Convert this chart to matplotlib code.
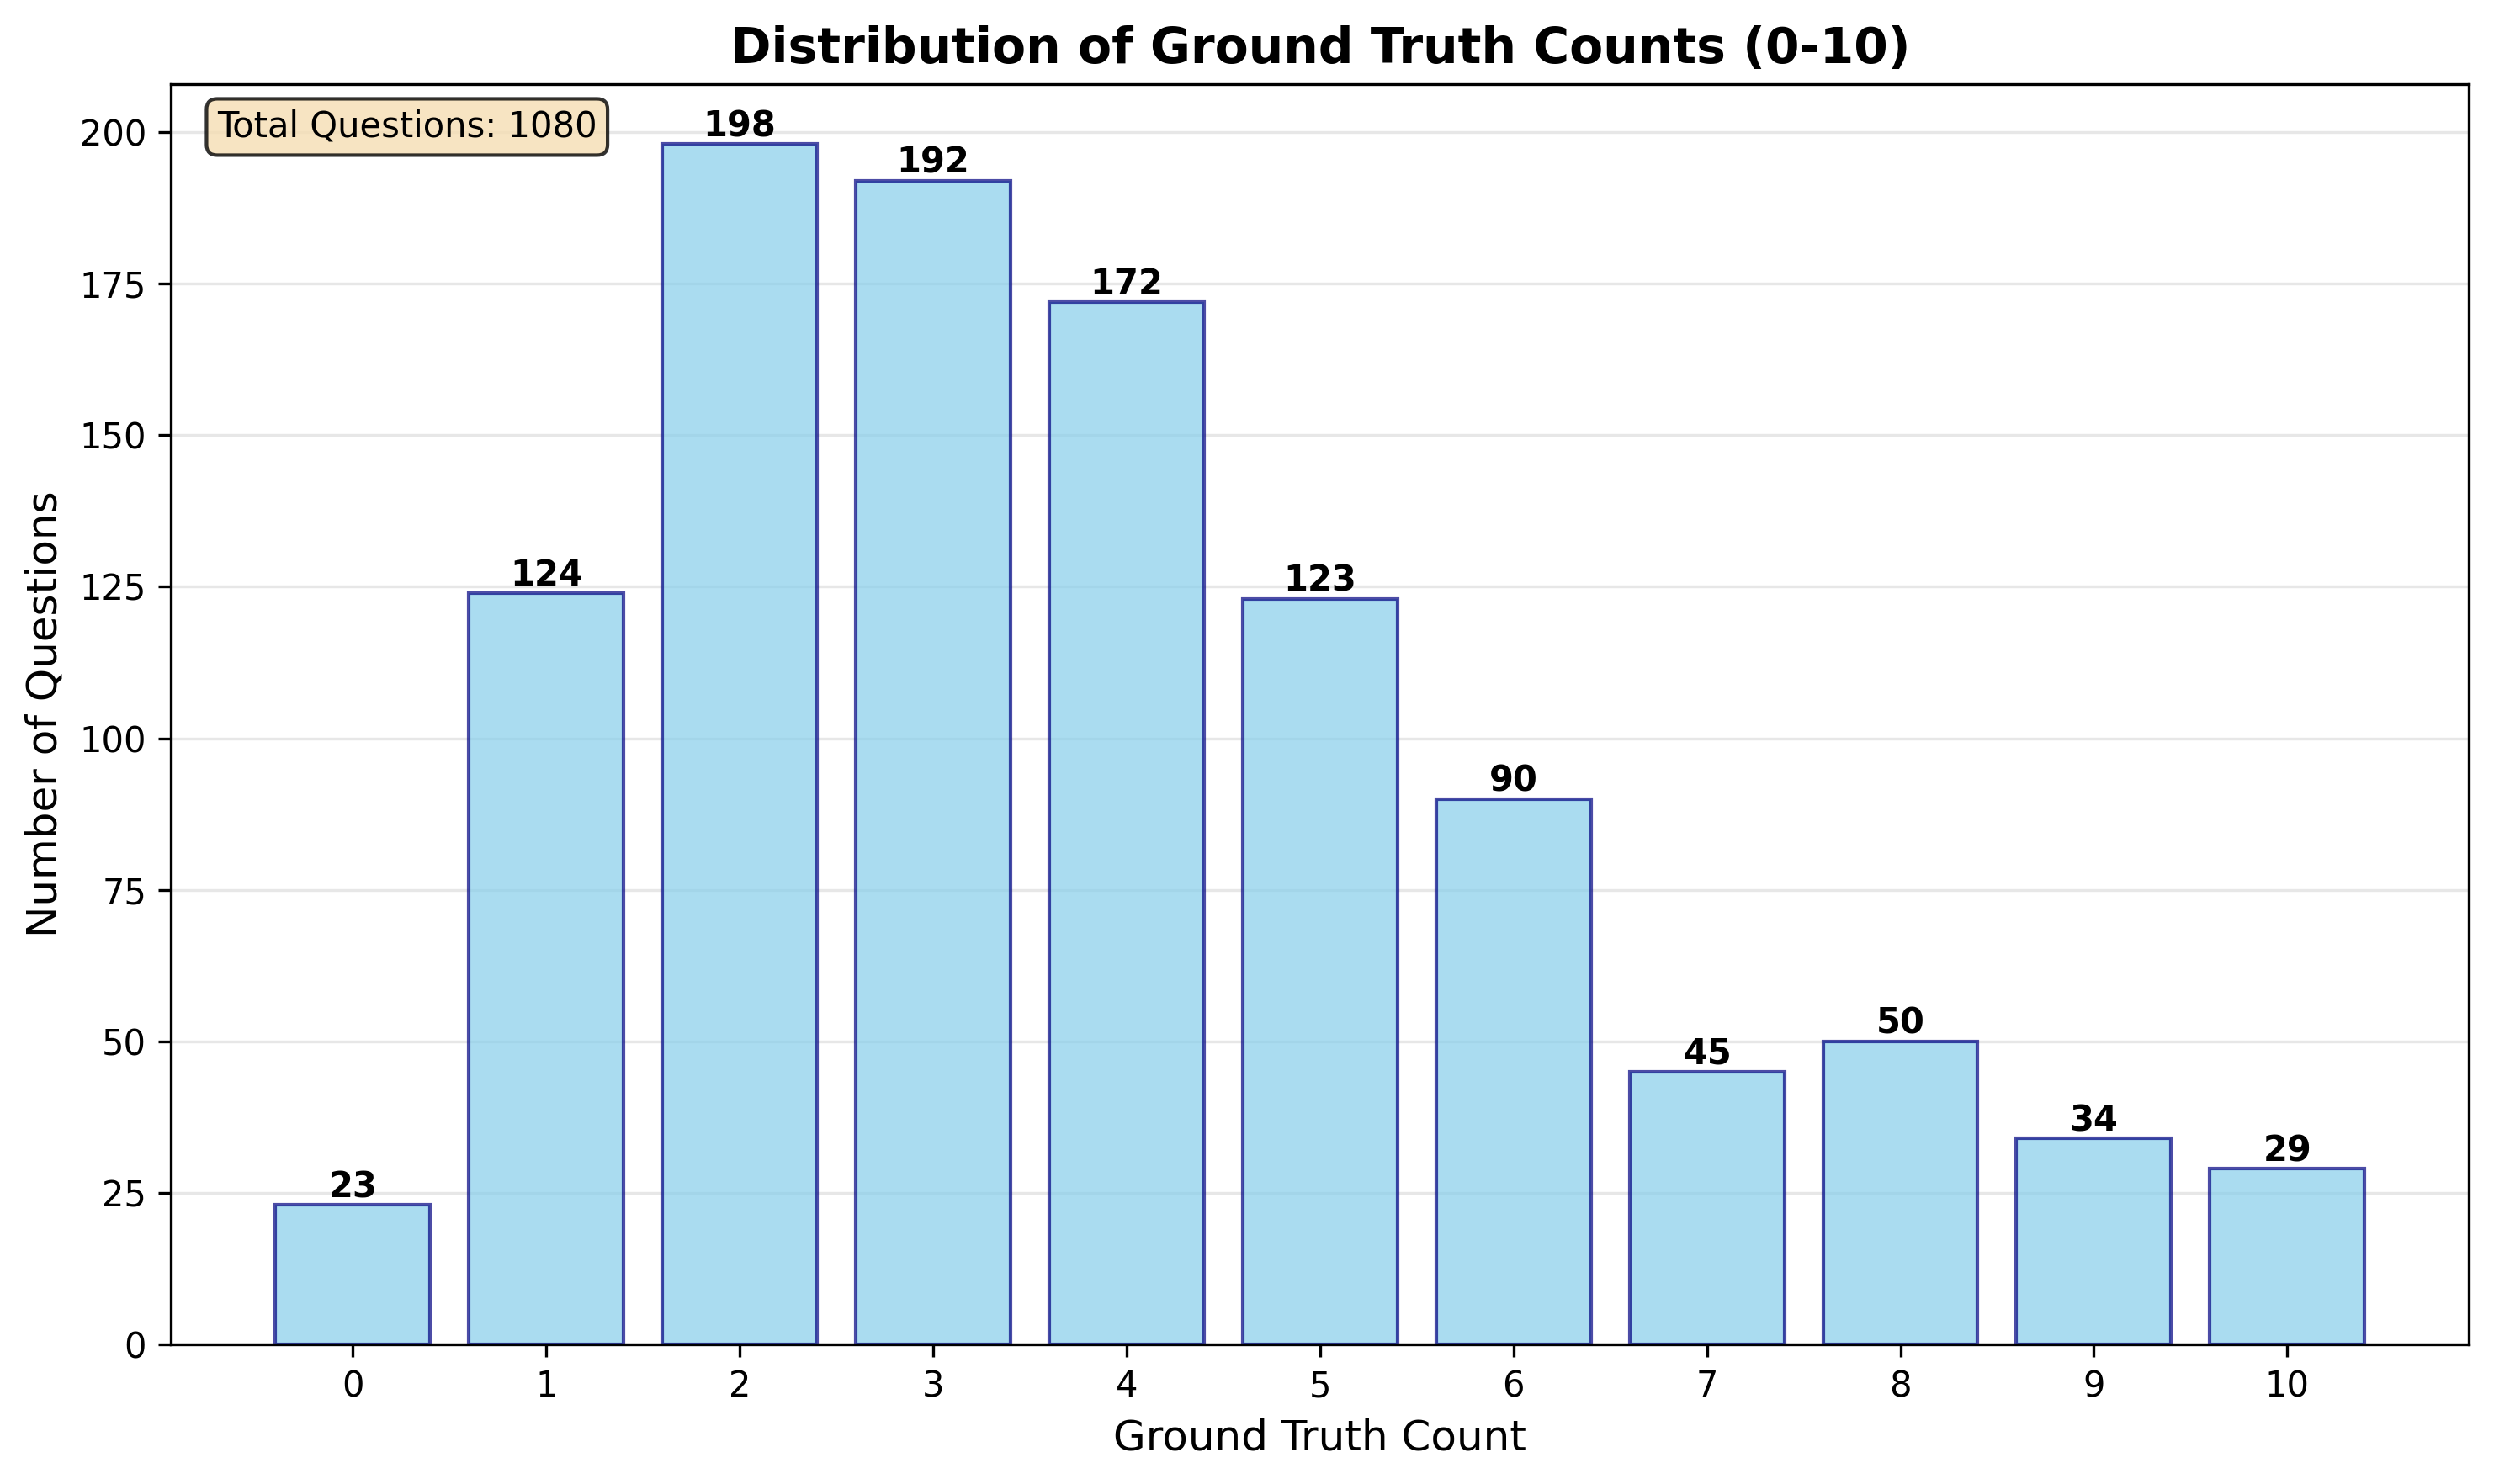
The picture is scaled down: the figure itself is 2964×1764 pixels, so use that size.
import numpy as np
import matplotlib.pyplot as plt

counts = [0, 1, 2, 3, 4, 5, 6, 7, 8, 9, 10]
num_questions = [23, 124, 198, 192, 172, 123, 90, 45, 50, 34, 29]

fig, ax = plt.subplots(figsize=(10, 6))
bars = ax.bar(counts, num_questions, color='skyblue', edgecolor='navy',
              alpha=0.7, linewidth=1)

for bar, v in zip(bars, num_questions):
    ax.text(bar.get_x() + bar.get_width()/2, bar.get_height(), str(v),
            ha='center', va='bottom', fontweight='bold', fontsize=10)

ax.set_xlabel('Ground Truth Count', fontsize=12)
ax.set_ylabel('Number of Questions', fontsize=12)
ax.set_title('Distribution of Ground Truth Counts (0-10)', fontsize=14, fontweight='bold')
ax.set_xticks(counts)
ax.grid(axis='y', alpha=0.3)
ax.set_axisbelow(True)

ax.text(0.02, 0.98, f'Total Questions: {sum(num_questions)}', transform=ax.transAxes,
        fontsize=10, va='top',
        bbox=dict(boxstyle='round', facecolor='wheat', alpha=0.8))

plt.tight_layout()
plt.savefig('out.png', dpi=300, bbox_inches='tight')
